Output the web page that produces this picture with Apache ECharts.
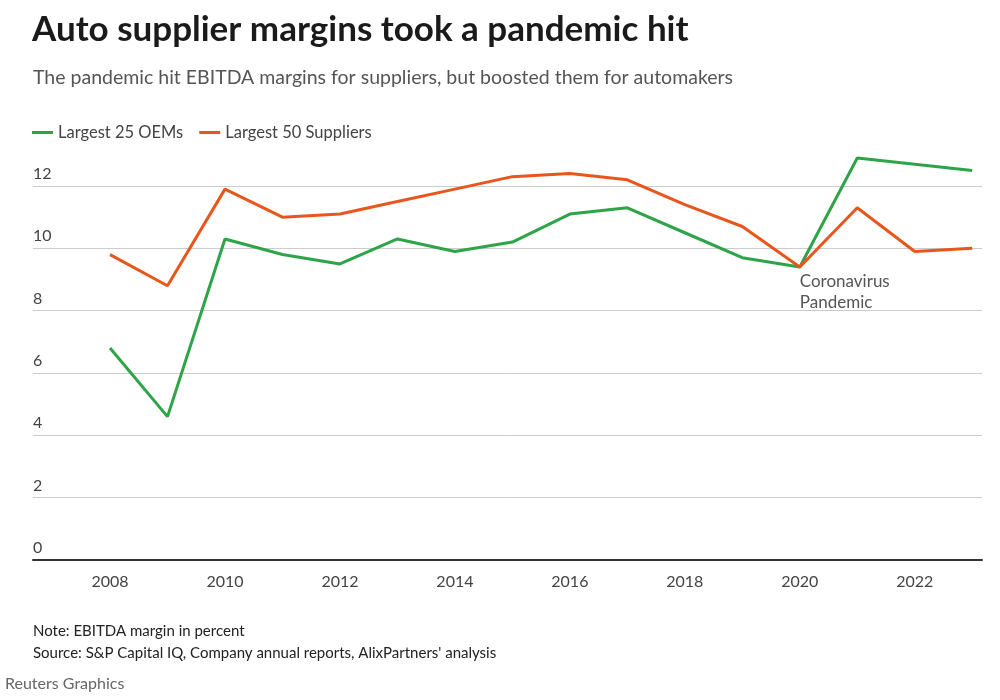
<!DOCTYPE html>
<html>
<head>
<meta charset="utf-8">
<script src="https://cdn.jsdelivr.net/npm/echarts@6/dist/echarts.min.js"></script>
<style>html,body{margin:0;padding:0;background:#fff}#c{width:1000px;height:700px}</style>
</head>
<body>
<div id="c"></div>
<script>
const years = [2008,2009,2010,2011,2012,2013,2014,2015,2016,2017,2018,2019,2020,2021,2022,2023];
const oems = [6.8,4.6,10.3,9.8,9.5,10.3,9.9,10.2,11.1,11.3,10.5,9.7,9.4,12.9,12.7,12.5];
const suppliers = [9.8,8.8,11.9,11.0,11.1,11.5,11.9,12.3,12.4,12.2,11.4,10.7,9.4,11.3,9.9,10.0];
const xTickLabels = [2008,2010,2012,2014,2016,2018,2020,2022];
const yTicks = [0,2,4,6,8,10,12];
const seriesNames = ['Largest 25 OEMs','Largest 50 Suppliers'];
const annotation = 'Coronavirus\nPandemic';

const FONT = 'Lato, "Noto Sans", sans-serif';
const chart = echarts.init(document.getElementById('c'), null, {renderer:'canvas'});
chart.setOption({
  animation:false,
  backgroundColor:'#fff',
  title:[
    {text:'Auto supplier margins took a pandemic hit', left:32, top:12, padding:0,
     textStyle:{fontFamily:FONT, fontWeight:'bold', fontSize:35, color:'#1a1a1a'}},
    {text:'The pandemic hit EBITDA margins for suppliers, but boosted them for automakers', left:33, top:68, padding:0,
     textStyle:{fontFamily:FONT, fontWeight:'normal', fontSize:19.5, color:'#555'}},
    {text:'Note: EBITDA margin in percent', left:33, top:624, padding:0,
     textStyle:{fontFamily:FONT, fontWeight:'normal', fontSize:15, color:'#222'}},
    {text:"Source: S&P Capital IQ, Company annual reports, AlixPartners' analysis", left:33, top:646, padding:0,
     textStyle:{fontFamily:FONT, fontWeight:'normal', fontSize:15, color:'#222'}},
    {text:'Reuters Graphics', left:5, top:676, padding:0,
     textStyle:{fontFamily:FONT, fontWeight:'normal', fontSize:16, color:'#666'}}
  ],
  legend:{
    left:32, top:124, padding:0, itemWidth:21, itemHeight:3, itemGap:16,
    icon:'rect',
    textStyle:{fontFamily:FONT, fontSize:16.5, color:'#444'},
    data:seriesNames
  },
  grid:{left:33, right:18, top:186, bottom:140, containLabel:false},
  xAxis:{
    type:'value', min:2006.66, max:2023.17,
    axisLine:{show:true, onZero:false, lineStyle:{color:'#333', width:2}},
    axisTick:{show:false},
    splitLine:{show:false},
    axisLabel:{customValues:xTickLabels, margin:14, fontFamily:FONT, fontSize:16, color:'#444',
      formatter:v=>String(v)}
  },
  yAxis:{
    type:'value', min:0, max:12, interval:2,
    axisLine:{show:false}, axisTick:{show:false},
    splitLine:{show:true, lineStyle:{color:'#ccc', width:1}},
    axisLabel:{inside:true, align:'left', verticalAlign:'bottom', margin:0, padding:[0,0,4,0],
      fontFamily:FONT, fontSize:16, color:'#444', customValues:yTicks, showMaxLabel:true}
  },
  series:[
    {name:seriesNames[0], type:'line', clip:false, symbol:'none', color:'#2ea449',
     lineStyle:{width:3, color:'#2ea449'},
     data:years.map((y,i)=>[y,oems[i]])},
    {name:seriesNames[1], type:'line', clip:false, symbol:'none', color:'#e8561c',
     lineStyle:{width:3, color:'#e8561c'},
     data:years.map((y,i)=>[y,suppliers[i]]),
     markPoint:{symbol:'circle', symbolSize:0, silent:true,
       data:[{coord:[2020,9.4], value:0,
         label:{show:true, position:[0,4], align:'left', verticalAlign:'top', formatter:annotation,
           fontFamily:FONT, fontSize:17, lineHeight:21, color:'#555'}}]}}
  ]
});
</script>
</body>
</html>
